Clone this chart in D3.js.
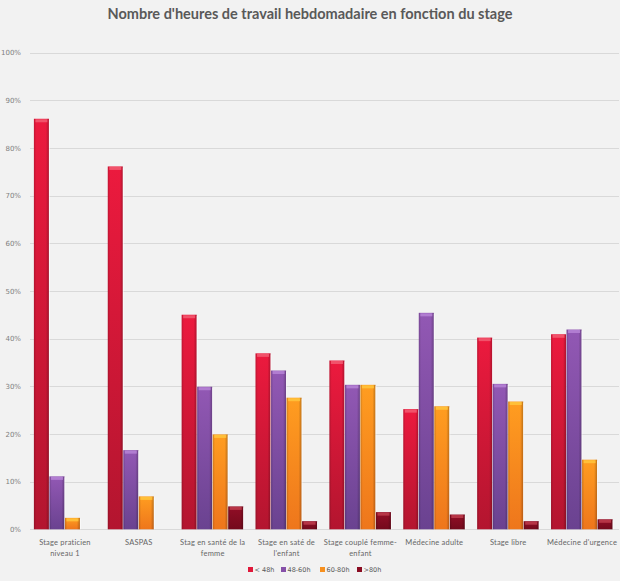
<!DOCTYPE html>
<html><head><meta charset="utf-8">
<script src="https://cdn.jsdelivr.net/npm/d3@7"></script>
<style>
html,body{margin:0;padding:0;background:#f2f2f2;}
svg{display:block;font-family:"Open Sans","Lato",sans-serif;}
</style></head>
<body>
<svg id="chart" width="620" height="581"></svg>
<script>
const categories = [
  ["Stage praticien", "niveau 1"],
  ["SASPAS"],
  ["Stag en santé de la", "femme"],
  ["Stage en saté de", "l'enfant"],
  ["Stage couplé femme-", "enfant"],
  ["Médecine adulte"],
  ["Stage libre"],
  ["Médecine d'urgence"]
];
const seriesNames = ["< 48h", "48-60h", "60-80h", ">80h"];
const lt48 =   [86.1, 76.1, 45.0, 36.9, 35.4, 25.2, 40.2, 40.9];
const h48_60 = [11.1, 16.6, 29.9, 33.3, 30.3, 45.4, 30.5, 41.9];
const h60_80 = [2.4, 6.9, 19.9, 27.6, 30.3, 25.8, 26.8, 14.6];
const gt80 =   [0, 0, 4.8, 1.7, 3.6, 3.1, 1.7, 2.1];
const yTicks = [0, 10, 20, 30, 40, 50, 60, 70, 80, 90, 100];

const seriesValues = [lt48, h48_60, h60_80, gt80];
const colors = [
  {top:"#ec1a3e", bot:"#b3152f", cap:"#f26075", leg:"#e0183a"},
  {top:"#9258b4", bot:"#6a4290", cap:"#b987d8", leg:"#8650a8"},
  {top:"#ff9d20", bot:"#ee761c", cap:"#ffc83e", leg:"#f7901e"},
  {top:"#920e26", bot:"#740a1c", cap:"#c0404f", leg:"#8a0c22"}
];

const svg = d3.select("#chart");
const W = 620, H = 581;
const margin = {left: 27, right: 1, top: 52, bottom: 52};

const x0 = d3.scaleBand().domain(d3.range(categories.length))
  .range([margin.left + 1, W - margin.right]).paddingInner(0.16).paddingOuter(0.08);
const x1 = d3.scaleBand().domain(d3.range(seriesNames.length))
  .range([0, x0.bandwidth()]).padding(0);
const y = d3.scaleLinear().domain([0, 100]).range([529.3, 52.5]);

const defs = svg.append("defs");
colors.forEach((c, i) => {
  const g = defs.append("linearGradient").attr("id", "gv" + i)
    .attr("x1", 0).attr("y1", 0).attr("x2", 0).attr("y2", 1);
  g.append("stop").attr("offset", "0%").attr("stop-color", c.top);
  g.append("stop").attr("offset", "100%").attr("stop-color", c.bot);
});
const gh = defs.append("linearGradient").attr("id", "gh")
  .attr("x1", 0).attr("y1", 0).attr("x2", 1).attr("y2", 0);
gh.append("stop").attr("offset", "0%").attr("stop-color", "#000").attr("stop-opacity", 0.18);
gh.append("stop").attr("offset", "15%").attr("stop-color", "#000").attr("stop-opacity", 0);
gh.append("stop").attr("offset", "80%").attr("stop-color", "#000").attr("stop-opacity", 0);
gh.append("stop").attr("offset", "100%").attr("stop-color", "#000").attr("stop-opacity", 0.25);

// Title
svg.append("text").attr("x", 310).attr("y", 19).attr("text-anchor", "middle")
  .attr("font-size", 14.5).attr("font-weight", "bold").attr("fill", "#595959")
  .attr("font-family", "Lato, 'Open Sans', sans-serif")
  .text("Nombre d'heures de travail hebdomadaire en fonction du stage");

// Gridlines
svg.append("g").selectAll("line").data(yTicks).join("line")
  .attr("x1", 30).attr("x2", 619)
  .attr("y1", d => Math.round(y(d)) + 0.5).attr("y2", d => Math.round(y(d)) + 0.5)
  .attr("stroke", "#d9d9d9").attr("stroke-width", 1);

// Y axis labels
const yAxis = d3.axisLeft(y).tickValues(yTicks).tickSize(0).tickPadding(0)
  .tickFormat(d => d + "%");
const ya = svg.append("g").attr("transform", "translate(21,0)").call(yAxis);
ya.select(".domain").remove();
ya.selectAll("text").attr("font-size", 7).attr("fill", "#7f7f7f")
  .attr("font-family", "'DejaVu Sans', sans-serif");

// Bars
const groups = svg.append("g").selectAll("g").data(categories.map((c, i) => i)).join("g")
  .attr("transform", i => `translate(${x0(i)},0)`);

groups.each(function(ci) {
  const g = d3.select(this);
  seriesValues.forEach((vals, si) => {
    const v = vals[ci];
    if (v <= 0) return;
    const bx = x1(si), bw = x1.bandwidth() - 0.5;
    const by = y(v), bh = y(0) - y(v);
    g.append("rect").attr("x", bx).attr("y", by).attr("width", bw).attr("height", bh)
      .attr("fill", `url(#gv${si})`);
    g.append("rect").attr("x", bx).attr("y", by).attr("width", bw).attr("height", bh)
      .attr("fill", "url(#gh)");
    const capH = Math.min(3, bh * 0.4);
    g.append("rect").attr("x", bx + 1.5).attr("y", by + 0.5).attr("width", bw - 3).attr("height", capH)
      .attr("fill", colors[si].cap).attr("opacity", 0.8);
    g.append("line").attr("x1", bx + bw + 0.5).attr("x2", bx + bw + 0.5)
      .attr("y1", by + 1).attr("y2", y(0)).attr("stroke", "#ffffff").attr("stroke-opacity", 0.6);
  });
});

// X labels
const xl = svg.append("g");
categories.forEach((lines, i) => {
  const cx = x0(i) + x0.bandwidth() / 2;
  const t = xl.append("text").attr("text-anchor", "middle").attr("font-size", 7.5)
    .attr("fill", "#666666").attr("font-family", "Lato, 'Open Sans', sans-serif")
    .attr("letter-spacing", 0.2);
  lines.forEach((ln, k) => {
    t.append("tspan").attr("x", cx).attr("y", 545 + k * 10.5).text(ln);
  });
});

// Legend
const legendItems = [
  {x: 248, label: seriesNames[0]},
  {x: 281, label: seriesNames[1]},
  {x: 320, label: seriesNames[2]},
  {x: 357, label: seriesNames[3]}
];
const lg = svg.append("g");
legendItems.forEach((it, i) => {
  lg.append("rect").attr("x", it.x).attr("y", 567).attr("width", 5).attr("height", 5)
    .attr("fill", colors[i].leg);
  lg.append("text").attr("x", it.x + 6.5).attr("y", 572).attr("font-size", 6.5)
    .attr("fill", "#595959").attr("font-family", "'DejaVu Sans', sans-serif").text(it.label);
});
</script>
</body></html>
